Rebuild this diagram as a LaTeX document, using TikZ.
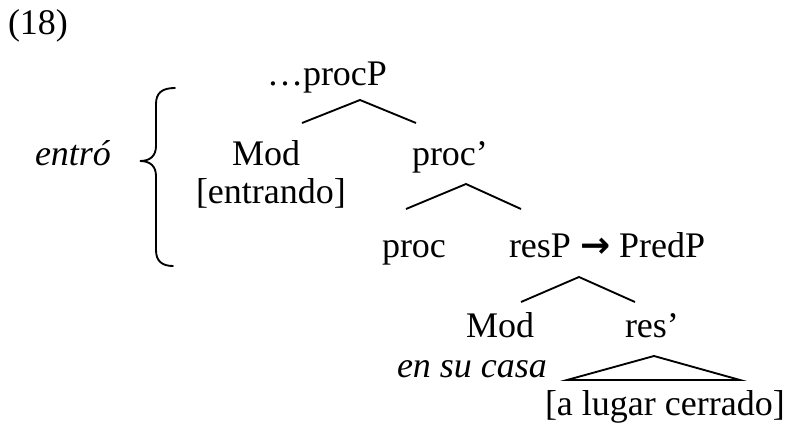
\documentclass[tikz,border=0pt]{standalone}
\usepackage{fontspec}
\setmainfont{Liberation Serif}
\newfontfamily\arrowfont{DejaVu Sans}
\begin{document}
\begin{tikzpicture}[x=0.75pt,y=-0.75pt,
  lbl/.style={anchor=base west,inner sep=0pt,outer sep=0pt,font=\fontsize{27}{32}\selectfont},
  ilbl/.style={lbl,font=\fontsize{27}{32}\selectfont\itshape},
  branch/.style={line width=1.4pt,line join=miter},
  bracestyle/.style={line width=1.4pt,line cap=round}]
\useasboundingbox (0,0) rectangle (789,428);

% labels
\node[lbl]  (num)    at (8,35)    {(18)};
\node[lbl]  (procP)  at (267,85)  {\ldots procP};
\node[ilbl] (entro)  at (35,165)  {entró};
\node[lbl]  (modA)   at (232,165) {Mod};
\node[lbl]  (procb)  at (412,165) {proc’};
\node[lbl]  (entr)   at (196,203) {[entrando]};
\node[lbl]  (proc)   at (382,257) {proc};
\node[lbl]  (resP)   at (509,257) {resP {\arrowfont\bfseries →} PredP};
\node[lbl]  (modB)   at (466,337) {Mod};
\node[lbl]  (resb)   at (625,337) {res’};
\node[ilbl] (casa)   at (397,377) {en su casa};
\node[lbl]  (lugar)  at (545,415) {[a lugar cerrado]};

% branch points
\coordinate (t1) at (360,100); \coordinate (l1) at (302,123); \coordinate (r1) at (416,123);
\coordinate (t2) at (466,184); \coordinate (l2) at (406,209); \coordinate (r2) at (521,209);
\coordinate (t3) at (579,277); \coordinate (l3) at (521,302); \coordinate (r3) at (635,302);
\coordinate (t4) at (654,356); \coordinate (l4) at (567,380); \coordinate (r4) at (740,380);

\draw[branch] (l1) -- (t1) -- (r1);
\draw[branch] (l2) -- (t2) -- (r2);
\draw[branch] (l3) -- (t3) -- (r3);
\draw[branch] (l4) -- (t4) -- (r4) -- cycle;

% curly brace
\coordinate (btop) at (175,88);
\coordinate (btip) at (140,161);
\coordinate (bbot) at (173,266);
\draw[bracestyle] (btop) .. controls (162,88) and (156,93) .. (156,104)
  -- (156,146) .. controls (156,156) and (150,161) .. (btip)
  .. controls (150,161) and (156,166) .. (156,176)
  -- (156,250) .. controls (156,261) and (162,266) .. (bbot);
\end{tikzpicture}
\end{document}
